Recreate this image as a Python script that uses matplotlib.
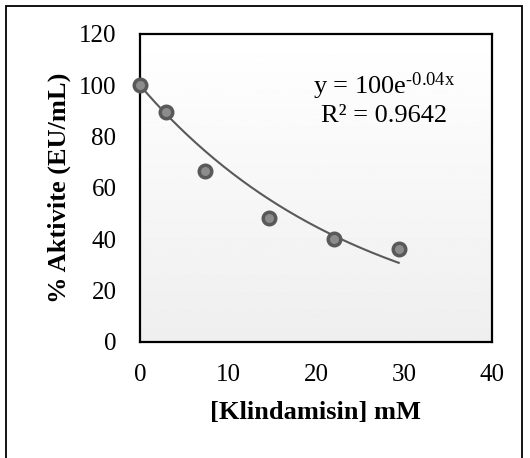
import numpy as np
import matplotlib
matplotlib.use("Agg")
import matplotlib.pyplot as plt
from matplotlib.patches import Rectangle

# Data
conc = [0, 3.0, 7.4, 14.7, 22.0, 29.4]
activity = [100, 89.8, 66.6, 48.3, 40.0, 36.1]
fit_a = 100
fit_k = 0.04
x_ticks = [0, 10, 20, 30, 40]
y_ticks = [0, 20, 40, 60, 80, 100, 120]
eq_text = "y = 100e$^{\\text{-0.04x}}$"
r2_text = "R² = 0.9642"
xlabel = "[Klindamisin] mM"
ylabel = "% Aktivite (EU/mL)"

plt.rcParams['font.family'] = ['Liberation Serif', 'DejaVu Serif']
plt.rcParams['mathtext.fontset'] = 'custom'
plt.rcParams['mathtext.rm'] = 'Liberation Serif'
plt.rcParams['mathtext.it'] = 'Liberation Serif'

W, H = 530, 458
fig = plt.figure(figsize=(W / 100, H / 100), dpi=100)

# outer border
fig.patches.append(Rectangle((6 / W, -0.05), (522 - 6) / W, (H - 6) / H + 0.05,
                             transform=fig.transFigure, fill=False,
                             edgecolor='black', linewidth=1.3))

ax = fig.add_axes([140 / W, (H - 342) / H, 352 / W, 308 / H])
ax.set_xlim(0, 40)
ax.set_ylim(0, 120)

# gradient background
grad = np.linspace(1.0, 0.935, 256).reshape(-1, 1)
ax.imshow(grad, extent=[0, 1, 0, 1], transform=ax.transAxes, cmap='gray',
          vmin=0, vmax=1, aspect='auto', zorder=0)

xs = np.linspace(min(conc), max(conc), 200)
ax.plot(xs, fit_a * np.exp(-fit_k * xs), color='#595959', linewidth=1.5, zorder=2)
ax.plot(conc, activity, linestyle='none', marker='o', markersize=9,
        markerfacecolor='#8c8c8c', markeredgecolor='#595959', markeredgewidth=2.5,
        zorder=3, clip_on=False)

ax.set_xticks(x_ticks)
ax.set_yticks(y_ticks)
ax.tick_params(axis='both', length=0, labelsize=18)
ax.tick_params(axis='x', pad=16)
ax.tick_params(axis='y', pad=17)
for s in ax.spines.values():
    s.set_linewidth(1.6)
    s.set_color('black')

ax.set_xlabel(xlabel, fontsize=19, fontweight='bold', labelpad=11)
ax.set_ylabel(ylabel, fontsize=19, fontweight='bold', labelpad=6)

ax.text(0.693, 0.83, eq_text, transform=ax.transAxes, fontsize=19,
        ha='center', va='center')
ax.text(0.693, 0.735, r2_text, transform=ax.transAxes, fontsize=19,
        ha='center', va='center')

fig.savefig("out.png", dpi=100)
